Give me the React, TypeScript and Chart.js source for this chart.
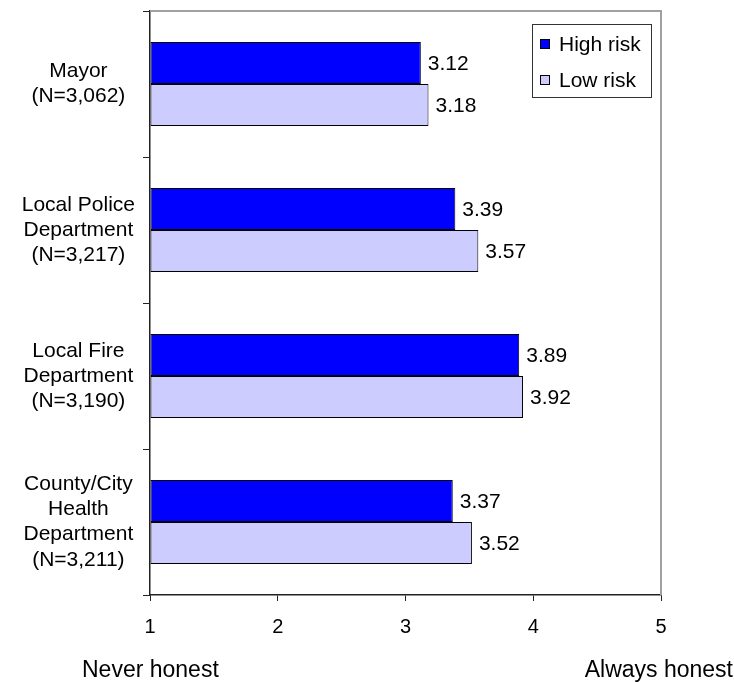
import React, { useEffect, useRef } from "react";
import { Chart, registerables } from "chart.js";

Chart.register(...registerables);

const categories: string[][] = [
  ["Mayor", "(N=3,062)"],
  ["Local Police", "Department", "(N=3,217)"],
  ["Local Fire", "Department", "(N=3,190)"],
  ["County/City", "Health", "Department", "(N=3,211)"],
];
const highRisk = [3.12, 3.39, 3.89, 3.37];
const lowRisk = [3.18, 3.57, 3.92, 3.52];
const seriesNames = ["High risk", "Low risk"];
const xTicks = [1, 2, 3, 4, 5];
const endLabels = ["Never honest", "Always honest"];

const FONT = '"Liberation Sans", Arial, sans-serif';

const decorPlugin = {
  id: "decor",
  beforeDatasetsDraw(chart: any) {
    const { ctx, chartArea } = chart;
    ctx.save();
    ctx.strokeStyle = "#a0a0a0";
    ctx.lineWidth = 2;
    ctx.beginPath();
    ctx.moveTo(chartArea.left, chartArea.top);
    ctx.lineTo(chartArea.right, chartArea.top);
    ctx.lineTo(chartArea.right, chartArea.bottom);
    ctx.stroke();
    ctx.restore();
  },
  afterDatasetsDraw(chart: any) {
    const { ctx, chartArea } = chart;
    ctx.save();
    // value labels
    ctx.font = `21px ${FONT}`;
    ctx.fillStyle = "#000";
    ctx.textAlign = "left";
    ctx.textBaseline = "middle";
    chart.data.datasets.forEach((ds: any, di: number) => {
      const meta = chart.getDatasetMeta(di);
      meta.data.forEach((el: any, i: number) => {
        const v = ds.data[i] as number;
        ctx.fillText(v.toFixed(2), el.x + 7, el.y + 1);
      });
    });
    // legend
    const bx = chartArea.right - 129;
    const by = chartArea.top + 13;
    const bw = 119;
    const bh = 73;
    ctx.fillStyle = "#fff";
    ctx.fillRect(bx, by, bw, bh);
    ctx.strokeStyle = "#333";
    ctx.lineWidth = 1;
    ctx.strokeRect(bx + 0.5, by + 0.5, bw, bh);
    chart.data.datasets.forEach((ds: any, di: number) => {
      const cy = by + 20 + di * 36;
      ctx.fillStyle = ds.backgroundColor;
      ctx.fillRect(bx + 8, cy - 5, 10, 10);
      ctx.strokeStyle = "#000";
      ctx.strokeRect(bx + 8.5, cy - 4.5, 9, 9);
      ctx.fillStyle = "#000";
      ctx.font = `21px ${FONT}`;
      ctx.textBaseline = "middle";
      ctx.textAlign = "left";
      ctx.fillText(ds.label, bx + 27, cy + 1);
    });
    // end labels
    ctx.font = `23px ${FONT}`;
    ctx.fillStyle = "#000";
    ctx.textBaseline = "alphabetic";
    ctx.textAlign = "left";
    ctx.fillText(endLabels[0], 82, 677);
    ctx.textAlign = "right";
    ctx.fillText(endLabels[1], 733, 677);
    ctx.restore();
  },
};

export default function App() {
  const ref = useRef<HTMLCanvasElement | null>(null);
  useEffect(() => {
    if (!ref.current) return;
    const chart = new Chart(ref.current, {
      type: "bar",
      data: {
        labels: categories,
        datasets: [
          {
            label: seriesNames[0],
            data: highRisk,
            backgroundColor: "#0000ff",
            borderColor: "#000",
            borderWidth: 1,
            borderSkipped: false,
            base: 1,
            categoryPercentage: 0.575,
            barPercentage: 1,
          } as any,
          {
            label: seriesNames[1],
            data: lowRisk,
            backgroundColor: "#ccccff",
            borderColor: "#000",
            borderWidth: 1,
            borderSkipped: false,
            base: 1,
            categoryPercentage: 0.575,
            barPercentage: 1,
          } as any,
        ],
      },
      options: {
        indexAxis: "y",
        responsive: false,
        animation: false,
        devicePixelRatio: 1,
        layout: { padding: { top: 11, right: 73, left: 0, bottom: 0 } },
        plugins: {
          legend: { display: false },
          tooltip: { enabled: false },
        },
        scales: {
          x: {
            type: "linear",
            min: xTicks[0],
            max: xTicks[xTicks.length - 1],
            afterBuildTicks: (scale: any) => {
              scale.ticks = xTicks.map((v) => ({ value: v }));
            },
            ticks: {
              stepSize: 1,
              color: "#000",
              font: { family: FONT, size: 20 },
              padding: 14,
            },
            grid: {
              drawOnChartArea: false,
              tickLength: 6,
              color: "#222",
            },
            border: { color: "#222", width: 1.5 },
            afterFit: (scale: any) => {
              scale.height = 87;
              scale.paddingLeft = 0;
              scale.paddingRight = 0;
            },
          },
          y: {
            type: "category",
            ticks: {
              color: "#000",
              font: { family: FONT, size: 21, lineHeight: 1.2 },
              crossAlign: "center",
              padding: 8,
            },
            grid: {
              drawOnChartArea: false,
              offset: true,
              tickLength: 7,
              color: "#222",
            },
            border: { color: "#222", width: 1.5 },
            afterFit: (scale: any) => {
              scale.width = 150;
              scale.paddingTop = 0;
              scale.paddingBottom = 0;
            },
          },
        },
      } as any,
      plugins: [decorPlugin],
    });
    return () => chart.destroy();
  }, []);
  return (
    <div style={{ position: "absolute", left: 0, top: 0, width: 734, height: 682, background: "#fff" }}>
      <canvas ref={ref} width={734} height={682} style={{ display: "block" }} />
    </div>
  );
}
